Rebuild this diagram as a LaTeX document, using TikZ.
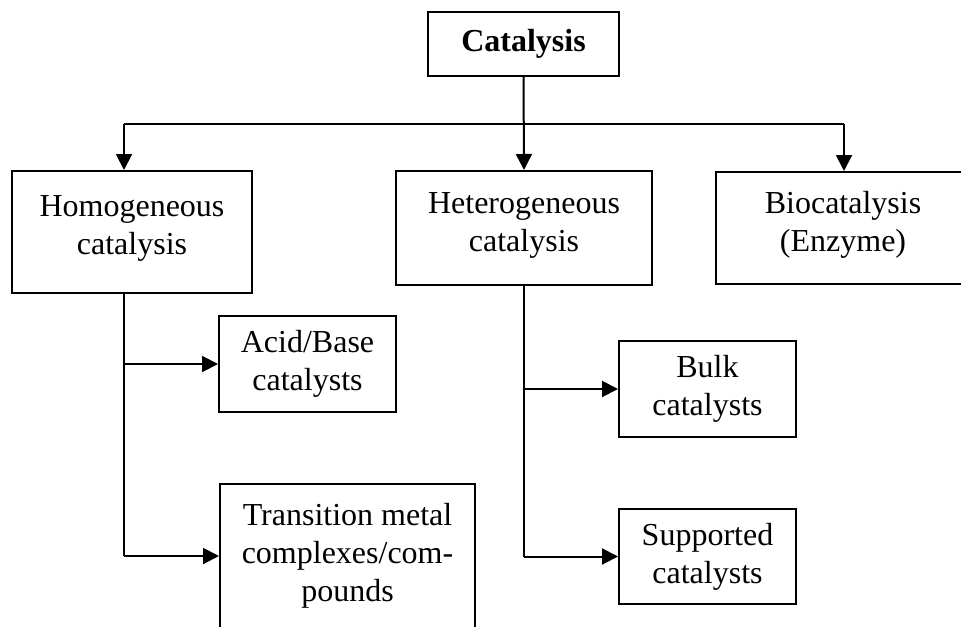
\documentclass[tikz,border=0pt]{standalone}
\usepackage{fontspec}
\setmainfont{Liberation Serif}
\usepackage{tikz}
\usetikzlibrary{arrows.meta, calc, positioning}

\begin{document}
\begin{tikzpicture}[x=0.5pt, y=-0.5pt, >={Triangle[length=8pt,width=8pt]}]
        \tikzstyle{box}=[draw, line width=1pt, align=center, inner sep=0pt, font=\fontsize{16}{19}\selectfont]
        \tikzstyle{link}=[line width=1pt]
        \useasboundingbox (0,0) rectangle (961,626);
        \clip (0,0) rectangle (961,626);

        % Top node
        \node[box, minimum width=191*0.5pt, minimum height=64*0.5pt] (cat) at (523.5,44) {\textbf{Catalysis}};

        % Main classes
        \node[box, minimum width=240*0.5pt, minimum height=122*0.5pt, text depth=7pt] (homo) at (132,232) {Homogeneous\\catalysis};
        \node[box, minimum width=256*0.5pt, minimum height=114*0.5pt, text depth=6pt] (hetero) at (524,228) {Heterogeneous\\catalysis};
        \node[box, minimum width=254*0.5pt, minimum height=112*0.5pt, text depth=7pt] (bio) at (843,228) {Biocatalysis\\(Enzyme)};

        % Sub classes
        \node[box, minimum width=177*0.5pt, minimum height=96*0.5pt] (acid) at (307.5,364) {Acid/Base\\catalysts};
        \node[box, minimum width=255*0.5pt, minimum height=144*0.5pt] (trans) at (347.5,556) {Transition metal\\complexes/com-\\pounds};
        \node[box, minimum width=177*0.5pt, minimum height=96*0.5pt] (bulk) at (707.5,389) {Bulk\\catalysts};
        \node[box, minimum width=177*0.5pt, minimum height=95*0.5pt] (supp) at (707.5,556.5) {Supported\\catalysts};

        % Branch points
        \coordinate (hl) at (124,124);
        \coordinate (hr) at (844,124);

        % Catalysis to the three classes
        \draw[link, ->] (cat.south) -- (hetero.north);
        \draw[link] (hl) -- (hr);
        \draw[link, ->] (hl) -- (hl |- homo.north);
        \draw[link, ->] (hr) -- (hr |- bio.north);

        % Homogeneous branch
        \draw[link] (hl |- homo.south) -- (hl |- trans.west);
        \draw[link, ->] (hl |- acid.west) -- (acid.west);
        \draw[link, ->] (hl |- trans.west) -- (trans.west);

        % Heterogeneous branch
        \draw[link] (hetero.south) -- (hetero.south |- supp.west);
        \draw[link, ->] (hetero.south |- bulk.west) -- (bulk.west);
        \draw[link, ->] (hetero.south |- supp.west) -- (supp.west);
\end{tikzpicture}
\end{document}
